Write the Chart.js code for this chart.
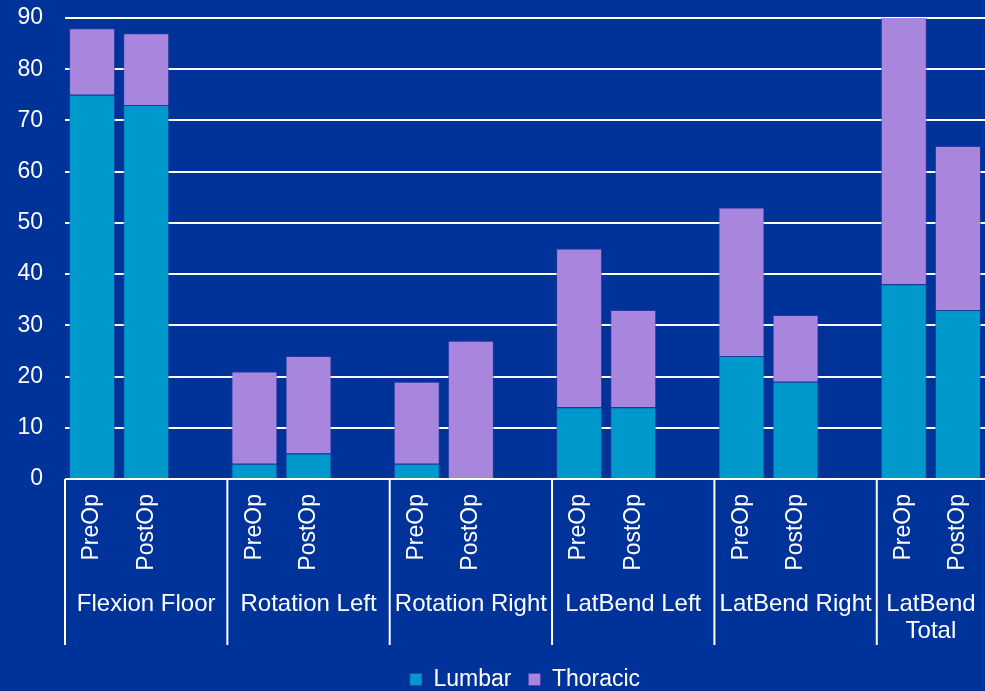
<!DOCTYPE html>
<html>
<head>
<meta charset="utf-8">
<script src="https://cdn.jsdelivr.net/npm/chart.js@4.4.1/dist/chart.umd.min.js"></script>
<style>
  html, body { margin: 0; padding: 0; background: #003399; overflow: hidden; }
  #wrap { width: 985px; height: 691px; position: relative; }
</style>
</head>
<body>
<div id="wrap"><canvas id="chart"></canvas></div>
<script>
// categories (blank slot between groups, as in the original)
const categories = [
    'PreOp', 'PostOp', '',
    'PreOp', 'PostOp', '',
    'PreOp', 'PostOp', '',
    'PreOp', 'PostOp', '',
    'PreOp', 'PostOp', '',
    'PreOp', 'PostOp'
];
const groupNames = ['Flexion Floor', 'Rotation Left', 'Rotation Right', 'LatBend Left', 'LatBend Right', ['LatBend', 'Total']];
const groupStarts = [0, 3, 6, 9, 12, 15];

const lumbar   = [75, 73, null, 3, 5, null, 3, 0, null, 14, 14, null, 24, 19, null, 38, 33];
const thoracic = [13, 14, null, 18, 19, null, 16, 27, null, 31, 19, null, 29, 13, null, 60, 32];

const yTicks = { min: 0, max: 90, step: 10 };

const FONT = { family: "'Liberation Sans', Arial, sans-serif", size: 23 };
const GROUP_FONT_SIZE = 24;

// group labels and separator lines under the x axis
const groupPlugin = {
    id: 'groupLabels',
    afterDraw(chart) {
        const x = chart.scales.x;
        const ctx = chart.ctx;
        const area = chart.chartArea;
        const step = x.getPixelForTick(1) - x.getPixelForTick(0);
        const top = area.bottom;
        ctx.save();
        ctx.strokeStyle = '#ffffff';
        ctx.lineWidth = 2;
        ctx.fillStyle = '#ffffff';
        ctx.font = GROUP_FONT_SIZE + 'px ' + FONT.family;
        ctx.textAlign = 'center';
        ctx.textBaseline = 'middle';
        groupStarts.forEach((s, i) => {
            const left = x.getPixelForValue(s) - step / 2;
            const right = i + 1 < groupStarts.length ? x.getPixelForValue(groupStarts[i + 1]) - step / 2 : area.right;
            ctx.beginPath();
            ctx.moveTo(left, top);
            ctx.lineTo(left, top + 166);
            ctx.stroke();
            const lines = [].concat(groupNames[i]);
            lines.forEach((t, j) => ctx.fillText(t, (left + right) / 2, top + 125 + j * 27));
        });
        ctx.restore();
    }
};

new Chart(document.getElementById('chart'), {
    type: 'bar',
    data: {
        labels: categories,
        datasets: [
            { label: 'Lumbar', data: lumbar, backgroundColor: '#0099cc', borderColor: 'rgba(40,70,170,0.6)', borderWidth: 1 },
            { label: 'Thoracic', data: thoracic, backgroundColor: '#a886dd', borderColor: 'rgba(70,60,170,0.6)', borderWidth: 1 }
        ]
    },
    options: {
        responsive: true,
        maintainAspectRatio: false,
        animation: false,
        categoryPercentage: 1,
        barPercentage: 0.85,
        layout: { padding: { top: 18, right: 0, left: 0, bottom: -10 } },
        scales: {
            x: {
                stacked: true,
                grid: { display: false, drawTicks: false },
                border: { display: false },
                ticks: {
                    color: '#ffffff', font: FONT, autoSkip: false,
                    minRotation: 90, maxRotation: 90, padding: 15
                },
                afterFit: (scale) => {
                    scale.height = 172;
                    scale.paddingLeft = 0;
                    scale.paddingRight = 0;
                }
            },
            y: {
                stacked: true,
                min: yTicks.min, max: yTicks.max,
                grid: { color: '#ffffff', lineWidth: 2, drawTicks: false },
                border: { display: false },
                ticks: { stepSize: yTicks.step, color: '#ffffff', font: FONT, padding: 22 },
                afterFit: (scale) => {
                    scale.width = 65;
                    scale.paddingTop = 0;
                    scale.paddingBottom = 0;
                }
            }
        },
        plugins: {
            legend: {
                position: 'bottom',
                fullSize: false,
                labels: { color: '#ffffff', font: FONT, boxWidth: 12, boxHeight: 12, padding: 17 }
            },
            tooltip: { enabled: false }
        }
    },
    plugins: [groupPlugin]
});
</script>
</body>
</html>
